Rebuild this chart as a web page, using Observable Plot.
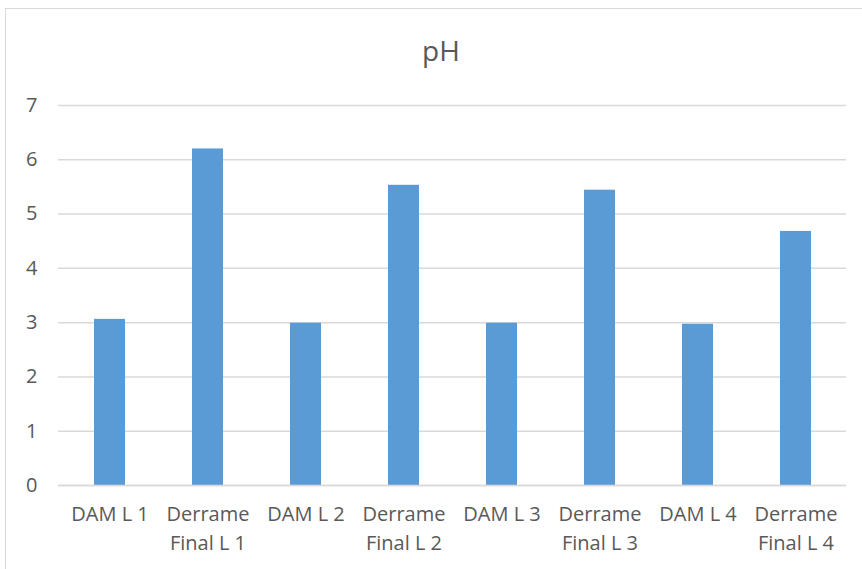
<!DOCTYPE html>
<html>
<head>
<meta charset="utf-8">
<script src="https://cdn.jsdelivr.net/npm/d3@7"></script>
<script src="https://cdn.jsdelivr.net/npm/@observablehq/plot@0.6"></script>
<style>
  html, body { margin: 0; padding: 0; background: #fff; }
  #wrap { position: relative; width: 862px; height: 569px; overflow: hidden; font-family: "Open Sans", sans-serif; }
  #frame { position: absolute; left: 5px; top: 8px; width: 870px; height: 600px; border: 1px solid #d9d9d9; box-sizing: border-box; }
  #title { position: absolute; left: 0; width: 882px; top: 36px; text-align: center; font-size: 28px; color: #595959; line-height: 1; }
  #chart { position: absolute; left: 0; top: 0; }
</style>
</head>
<body>
<div id="wrap">
  <div id="frame"></div>
  <div id="chart"></div>
  <div id="title">pH</div>
</div>
<script>
const categories = ["DAM L 1", "Derrame\nFinal L 1", "DAM L 2", "Derrame\nFinal L 2", "DAM L 3", "Derrame\nFinal L 3", "DAM L 4", "Derrame\nFinal L 4"];
const phValues = [3.06, 6.20, 2.99, 5.53, 2.99, 5.44, 2.97, 4.68];
const yTicks = [0, 1, 2, 3, 4, 5, 6, 7];

const data = categories.map((c, i) => ({category: c, value: phValues[i]}));

const chart = Plot.plot({
  width: 862,
  height: 569,
  marginTop: 105,
  marginBottom: 84,
  marginLeft: 58,
  marginRight: 16,
  style: {fontFamily: "Open Sans, sans-serif", fontSize: "20px", color: "#595959", background: "transparent"},
  x: {domain: categories, paddingInner: 0.685, paddingOuter: 0.3425, label: null},
  y: {domain: [0, 7], label: null},
  marks: [
    Plot.gridY(yTicks, {stroke: "#d9d9d9", strokeOpacity: 1, strokeWidth: 1.5}),
    Plot.axisY(yTicks, {tickSize: 0, tickPadding: 21, tickFormat: "d", label: null, fill: "#595959", fontSize: 20}),
    Plot.barY(data, {x: "category", y: "value", fill: "#5b9bd5"}),
    Plot.ruleY([0], {stroke: "#d9d9d9", strokeWidth: 1.5}),
    Plot.axisX({tickSize: 0, tickPadding: 15, label: null, fill: "#595959", fontSize: 20, lineHeight: 1.45})
  ]
});
document.getElementById("chart").appendChild(chart);
</script>
</body>
</html>
